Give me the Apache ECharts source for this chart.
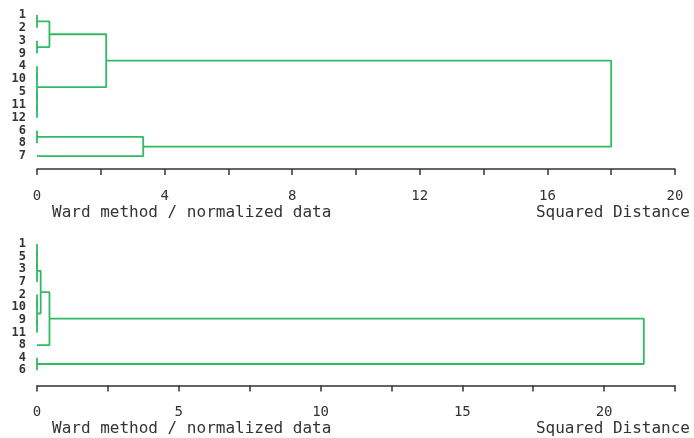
<!DOCTYPE html>
<html>
<head>
<meta charset="utf-8">
<script src="https://cdn.jsdelivr.net/npm/echarts@6/dist/echarts.min.js"></script>
<style>
  html, body { margin: 0; padding: 0; background: #fff; }
  #chart { width: 694px; height: 438px; }
</style>
</head>
<body>
<div id="chart"></div>
<script>
// leaf order, top to bottom
var leaves1 = ['1', '2', '3', '9', '4', '10', '5', '11', '12', '6', '8', '7'];
var leaves2 = ['1', '5', '3', '7', '2', '10', '9', '11', '8', '4', '6'];

// merges: pairs of leaves or earlier merges (m0, m1, ...) and their distance
var pairs1 = [['1', '2'], ['3', '9'], ['m0', 'm1'], ['4', '10'], ['11', '12'], ['5', 'm4'],
  ['m3', 'm5'], ['m2', 'm6'], ['6', '8'], ['m8', '7'], ['m7', 'm9']];
var heights1 = [0, 0, 0.39, 0, 0, 0, 0, 2.17, 0, 3.33, 18.0];

var pairs2 = [['1', '5'], ['m0', '3'], ['m1', '7'], ['2', '10'], ['9', '11'], ['m3', 'm4'],
  ['m2', 'm5'], ['m6', '8'], ['4', '6'], ['m7', 'm8']];
var heights2 = [0, 0, 0, 0, 0, 0, 0.13, 0.44, 0, 21.4];

var ticks1 = [0, 4, 8, 12, 16, 20];
var ticks2 = [0, 5, 10, 15, 20];

var green = '#2fba63';
var mono = '"DejaVu Sans Mono", monospace';

function buildLinks(leaves, pairs, heights, axis) {
  var pos = {};
  leaves.forEach(function (l, i) { pos[l] = [0, i]; });
  var out = [];
  pairs.forEach(function (p, k) {
    var a = pos[p[0]], b = pos[p[1]], h = heights[k];
    out.push({
      type: 'line', xAxisIndex: axis, yAxisIndex: axis,
      data: [[a[0], a[1]], [h, a[1]], [h, b[1]], [b[0], b[1]]],
      showSymbol: false, silent: true, z: 3,
      lineStyle: {color: green, width: 1.8}
    });
    pos['m' + k] = [h, (a[1] + b[1]) / 2];
  });
  return out;
}

function xAxis(idx, max, step, ticks) {
  return {
    gridIndex: idx, type: 'value', min: 0, max: max, interval: step,
    axisLine: {show: true, onZero: false, lineStyle: {color: '#333', width: 1.5}},
    axisTick: {show: true, length: 6, lineStyle: {color: '#333', width: 1.5}},
    splitLine: {show: false},
    axisLabel: {
      margin: 20, fontFamily: mono, fontSize: 14, color: '#333',
      formatter: function (v) { return ticks.indexOf(v) >= 0 ? String(v) : ''; }
    }
  };
}

function yAxis(idx, max, leaves) {
  return {
    gridIndex: idx, type: 'value', inverse: true, min: 0, max: max, interval: 1,
    axisLine: {show: false}, axisTick: {show: false}, splitLine: {show: false},
    axisLabel: {
      margin: 11, fontFamily: mono, fontSize: 12, fontWeight: 'bold', color: '#333',
      formatter: function (v) { return leaves[v] !== undefined ? leaves[v] : ''; }
    }
  };
}

var chart = echarts.init(document.getElementById('chart'));
chart.setOption({
  animation: false,
  backgroundColor: '#fff',
  grid: [
    {left: 37, right: 19, top: 15, height: 154},
    {left: 37, right: 19, top: 244, height: 141.5}
  ],
  xAxis: [xAxis(0, 20, 2, ticks1), xAxis(1, 22.5, 2.5, ticks2)],
  yAxis: [yAxis(0, 12, leaves1), yAxis(1, 11.2, leaves2)],
  series: buildLinks(leaves1, pairs1, heights1, 0).concat(buildLinks(leaves2, pairs2, heights2, 1)),
  graphic: [
    {type: 'text', left: 52, top: 205, style: {text: 'Ward method / normalized data', font: '16px ' + mono, fill: '#333'}},
    {type: 'text', right: 4, top: 205, style: {text: 'Squared Distance', font: '16px ' + mono, fill: '#333'}},
    {type: 'text', left: 52, top: 421, style: {text: 'Ward method / normalized data', font: '16px ' + mono, fill: '#333'}},
    {type: 'text', right: 4, top: 421, style: {text: 'Squared Distance', font: '16px ' + mono, fill: '#333'}}
  ]
});
</script>
</body>
</html>
